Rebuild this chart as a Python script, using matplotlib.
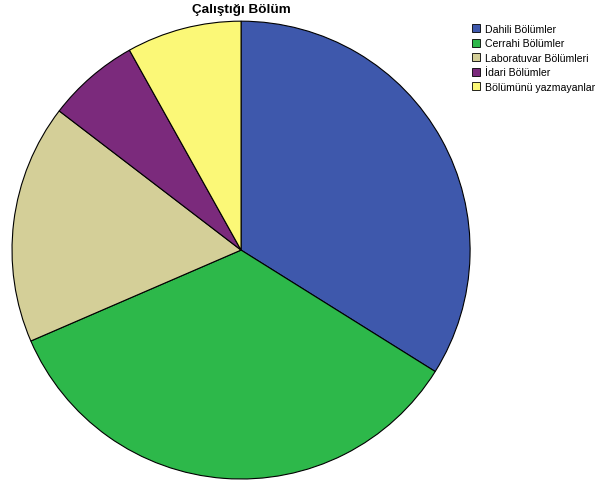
import matplotlib.pyplot as plt
from matplotlib.patches import Patch

plt.rcParams['font.family'] = ['Liberation Sans', 'DejaVu Sans']

labels = ['Dahili Bölümler', 'Cerrahi Bölümler', 'Laboratuvar Bölümleri',
          'İdari Bölümler', 'Bölümünü yazmayanlar']
values = [33.9, 34.6, 16.9, 6.5, 8.1]
colors = ['#3e58ac', '#2db84a', '#d4cf98', '#7b2a7c', '#fbf877']

fig = plt.figure(figsize=(5.98, 4.85), dpi=100)
ax = fig.add_axes([0.0201, 0.0103, 0.766, 0.944])
ax.pie(values, colors=colors, startangle=90, counterclock=False,
       wedgeprops=dict(edgecolor='black', linewidth=0.8))
ax.set_xlim(-1, 1)
ax.set_ylim(-1, 1)
ax.set_aspect('auto')

fig.text(241 / 598, 1 - 10 / 485, 'Çalıştığı Bölüm', ha='center', va='center',
         fontsize=9.7, fontweight='bold')

handles = [Patch(facecolor=c, edgecolor='black', linewidth=0.6) for c in colors]
fig.legend(handles, labels, loc='upper left', bbox_to_anchor=(472 / 598, 1 - 25 / 485),
           frameon=False, fontsize=7.6, handlelength=0.75, handleheight=0.8,
           handletextpad=0.45, labelspacing=0.42, borderaxespad=0, borderpad=0)

fig.savefig('out.png')
